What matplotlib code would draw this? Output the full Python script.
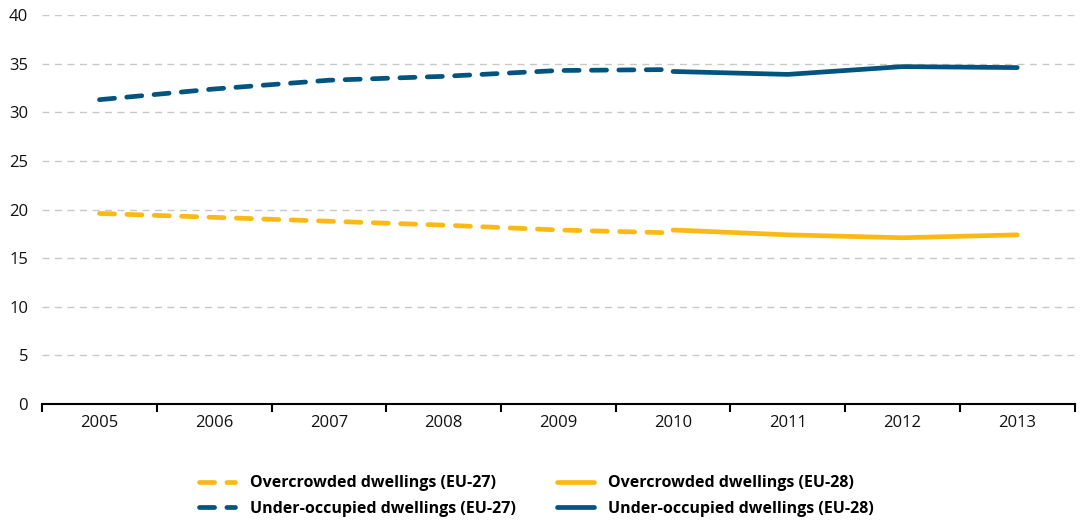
import numpy as np
import matplotlib
matplotlib.use("Agg")
import matplotlib.pyplot as plt

# Data
years = ["2005", "2006", "2007", "2008", "2009", "2010", "2011", "2012", "2013"]
over_eu27 = [19.6, 19.2, 18.8, 18.4, 17.9, 17.6]
under_eu27 = [31.3, 32.4, 33.3, 33.7, 34.3, 34.4]
over_eu28 = [17.9, 17.4, 17.1, 17.4]
under_eu28 = [34.2, 33.9, 34.7, 34.6]

yellow = "#FDB913"
blue = "#00547F"

plt.rcParams['font.family'] = ['Open Sans', 'DejaVu Sans']

fig = plt.figure(figsize=(10.8, 5.2), dpi=100)
ax = fig.add_axes([0.039, 0.223, 0.956, 0.748])

x27 = np.arange(len(over_eu27))
x28 = np.arange(len(over_eu27) - 1, len(years))

dash = (0, (3.2, 2.6))
l1, = ax.plot(x27, over_eu27, color=yellow, lw=3.4, ls=dash, dash_capstyle='round',
              label="Overcrowded dwellings (EU-27)")
l2, = ax.plot(x27, under_eu27, color=blue, lw=3.4, ls=dash, dash_capstyle='round',
              label="Under-occupied dwellings (EU-27)")
l3, = ax.plot(x28, over_eu28, color=yellow, lw=3.4, solid_capstyle='round',
              label="Overcrowded dwellings (EU-28)")
l4, = ax.plot(x28, under_eu28, color=blue, lw=3.4, solid_capstyle='round',
              label="Under-occupied dwellings (EU-28)")

ax.set_xlim(-0.5, len(years) - 0.5)
ax.set_ylim(0, 40)
ax.set_yticks(range(0, 41, 5))
ax.set_xticks(range(len(years)))
ax.set_xticklabels(years)
ax.set_xticks(np.arange(-0.5, len(years), 1), minor=True)
ax.tick_params(axis='x', which='major', length=0, pad=8, labelsize=12, labelcolor='#111111')
ax.tick_params(axis='x', which='minor', length=6, width=1.5, direction='out', color='black')
ax.tick_params(axis='y', length=0, pad=10, labelsize=12, labelcolor='#111111')

ax.grid(axis='y', color='#c8c8c8', ls=(0, (5, 4)), lw=1)
ax.set_axisbelow(True)
for s in ['top', 'right', 'left']:
    ax.spines[s].set_visible(False)
ax.spines['bottom'].set_linewidth(1.5)

leg = fig.legend(handles=[l1, l2, l3, l4], ncol=2, loc='upper left',
                 bbox_to_anchor=(0.178, 0.098), frameon=False,
                 prop={'weight': 'bold', 'size': 11.5}, handlelength=2.3,
                 columnspacing=2.6, labelspacing=0.6, handletextpad=0.9,
                 borderaxespad=0)

fig.savefig("out.png", dpi=100)
